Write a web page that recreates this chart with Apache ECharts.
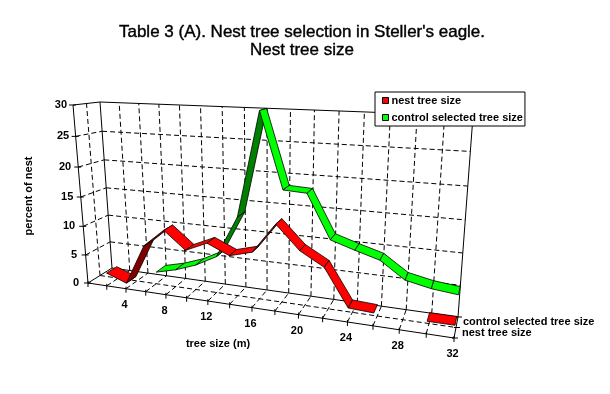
<!DOCTYPE html>
<html><head><meta charset="utf-8">
<style>html,body{margin:0;padding:0;background:#fff}#c{width:610px;height:394px}</style>
<script src="https://cdn.jsdelivr.net/npm/echarts@6/dist/echarts.min.js"></script>
</head><body><div id="c"></div>
<script>
// ---- data ----
const treeSizes = [2,4,6,8,10,12,14,16,18,20,22,24,26,28,30,32];
const nestValues = [2.2,0.9,7.8,10.8,7.9,9.5,7.9,8.9,13.7,10,7.9,2.1,1.9,null,1.8,1.8];
const controlValues = [null,null,2,2.9,4.2,6.1,13.1,30,18.1,17.9,11,9.8,8.7,6.1,5.3,4.9];
const xTickLabels = [4,8,12,16,20,24,28,32];
const yTickLabels = [0,5,10,15,20,25,30];
const depthLabels = ['nest tree size','control selected tree size'];
const titleText = "Table 3 (A). Nest tree selection in Steller's eagle.\nNest tree size";
const xName = 'tree size (m)';
const yName = 'percent of nest';

// ---- 3D box corners of the chart's perspective view ----
const A=[88,283],B=[454,338],C=[112,268],D=[458,317];
const At=[73,105],Bt=[470,123],Ct=[100,102],Dt=[473,116];
const wX=1.232, wY=1.07;
const persp=(t,w)=>t/(t+w*(1-t));
const lerp=(p,q,t)=>[p[0]+(q[0]-p[0])*t,p[1]+(q[1]-p[1])*t];
function project(cs,pt,d){
  const tx=persp((pt[0]-cs.x)/cs.width,wX);
  const ty=persp(1-(pt[1]-cs.y)/cs.height,wY);
  const bot=lerp(lerp(A,B,tx),lerp(C,D,tx),d);
  const top=lerp(lerp(At,Bt,tx),lerp(Ct,Dt,tx),d);
  return lerp(bot,top,ty);
}
const FONT='"Liberation Sans",Arial,sans-serif';
function txt(x,y,s,align,rot){
  return {type:'text',x,y,rotation:rot||0,style:{text:String(s),fill:'#000',font:'bold 11px '+FONT,align:align||'center',verticalAlign:'middle'},silent:true};
}
function ln(p,q,dash){
  return {type:'line',shape:{x1:p[0],y1:p[1],x2:q[0],y2:q[1]},silent:true,
    style:{stroke:'#000',lineWidth:1,lineDash:dash?[5,3]:null,fill:null}};
}
function renderFrame(params,api){
  const cs=params.coordSys, kids=[];
  const P=(x,v,d)=>project(cs,api.coord([x,v]),d);
  const dash=[];
  // back wall + floor vertical grid
  treeSizes.forEach(x=>{ if(x<32){
    dash.push(ln(P(x,0,1),P(x,30,1),true));
    dash.push(ln(P(x,0,0),P(x,0,1),true));
  }});
  // horizontal grid on back + side wall
  yTickLabels.forEach(v=>{ if(v>0&&v<30){
    dash.push(ln(P(0,v,1),P(32,v,1),true));
    dash.push(ln(P(0,v,0),P(0,v,1),true));
  }});
  dash.push(ln(P(0,0,.5),P(0,30,.5),true));
  dash.push(ln(P(0,0,.5),P(32,0,.5),true));
  kids.push(...dash);
  // solid frame
  [[[0,0,0],[32,0,0]],[[0,0,1],[32,0,1]],[[0,0,0],[0,0,1]],[[32,0,0],[32,0,1]],
   [[0,0,0],[0,30,0]],[[0,0,1],[0,30,1]],[[32,0,1],[32,30,1]],
   [[0,30,0],[0,30,1]],[[0,30,1],[32,30,1]]].forEach(s=>kids.push(ln(P(...s[0]),P(...s[1]))));
  // ticks
  yTickLabels.forEach(v=>{
    const p=P(0,v,0);
    kids.push(ln([p[0]-4,p[1]],[p[0]+3,p[1]]));
    kids.push(txt(p[0]-9+3*v/30,p[1],v,'right'));
  });
  [0].concat(treeSizes).forEach(x=>{
    const p=P(x,0,0);
    kids.push(ln([p[0],p[1]-2],[p[0],p[1]+4]));
  });
  xTickLabels.forEach(x=>{
    const p=P(x,0,0);
    kids.push(txt(p[0]-1.5,p[1]+16,x));
  });
  [0,.5,1].forEach(d=>{
    const p=P(32,0,d);
    kids.push(ln([p[0]-2,p[1]],[p[0]+4,p[1]]));
  });
  kids.push(txt(462,333,depthLabels[0],'left'));
  kids.push(txt(463,322,depthLabels[1],'left'));
  kids.push(txt(218,344,xName));
  kids.push(txt(29,196,yName,'center',Math.PI/2));
  return {type:'group',children:kids};
}
function ribbon(d0,d1,bright,dark){
  return function(params,api){
    const cs=params.coordSys;
    const x0=api.value(0),v0=api.value(1),x1=api.value(2),v1=api.value(3);
    const c0=api.coord([x0,v0]),c1=api.coord([x1,v1]);
    const pts=[project(cs,c0,d0),project(cs,c1,d0),project(cs,c1,d1),project(cs,c0,d1)];
    let a=0;
    pts.forEach((p,i)=>{const q=pts[(i+1)%4];a+=p[0]*q[1]-q[0]*p[1];});
    return {type:'polygon',shape:{points:pts},
      style:{fill:a<0?bright:dark,stroke:'#000',lineWidth:0.8}};
  };
}
function segments(values){
  const out=[];
  for(let i=0;i<values.length-1;i++){
    if(values[i]!=null&&values[i+1]!=null) out.push([treeSizes[i],values[i],treeSizes[i+1],values[i+1]]);
  }
  return out;
}
const chart=echarts.init(document.getElementById('c'),null,{renderer:'canvas'});
chart.setOption({
  animation:false,
  backgroundColor:'#fff',
  title:{text:titleText,left:297,top:18,textAlign:'center',
    textStyle:{fontFamily:FONT,fontSize:17,fontWeight:'normal',color:'#000',lineHeight:18,
      textBorderColor:'#000',textBorderWidth:0.4}},
  grid:{left:0,right:0,top:0,bottom:0},
  xAxis:{type:'value',min:0,max:32,interval:2,show:false},
  yAxis:{type:'value',min:0,max:30,interval:5,show:false},
  legend:{left:375,top:92,orient:'vertical',padding:[3,2,3,7],itemWidth:6,itemHeight:6,itemGap:6,
    backgroundColor:'#fff',borderColor:'#000',borderWidth:1,z:10,
    icon:'rect',selectedMode:false,data:depthLabels,
    itemStyle:{borderColor:'#000',borderWidth:1},
    textStyle:{fontFamily:FONT,fontSize:11,fontWeight:'bold',color:'#000',padding:[0,0,0,-2]}},
  series:[
    {type:'custom',z:1,silent:true,renderItem:renderFrame,data:[[0,0]],encode:{x:0,y:1}},
    {type:'custom',name:depthLabels[1],z:2,silent:true,itemStyle:{color:'#00ff00'},
     renderItem:ribbon(.53,.97,'#00ff00','#008000'),data:segments(controlValues),encode:{x:[0,2],y:[1,3]}},
    {type:'custom',name:depthLabels[0],z:3,silent:true,itemStyle:{color:'#ff0000'},
     renderItem:ribbon(.03,.47,'#ff0000','#800000'),data:segments(nestValues),encode:{x:[0,2],y:[1,3]}}
  ]
});
</script></body></html>
